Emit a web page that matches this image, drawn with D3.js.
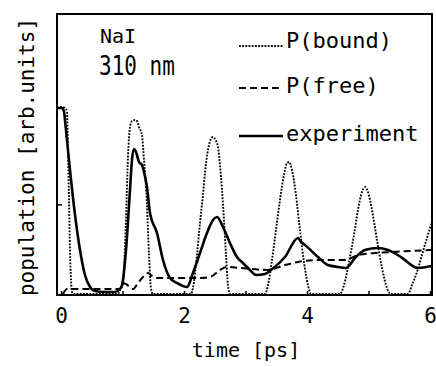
<!DOCTYPE html>
<html>
<head>
<meta charset="utf-8">
<script src="https://cdn.jsdelivr.net/npm/d3@7"></script>
<style>
  body { margin: 0; background: #fff; }
  text { font-family: "DejaVu Sans Mono", "Liberation Mono", monospace; fill: #000; }
</style>
</head>
<body>
<div id="chart"></div>
<script>
// data (time in ps, population in arb. units)
const expT = [-0.065,0.016,0.049,0.081,0.146,0.228,0.309,0.390,0.472,0.553,0.699,0.878,0.959,0.992,1.057,1.122,1.154,1.187,1.220,1.268,1.317,1.350,1.398,1.447,1.561,1.659,1.772,1.886,2.049,2.146,2.260,2.374,2.472,2.537,2.634,2.748,2.862,2.959,3.073,3.171,3.317,3.415,3.642,3.854,3.902,3.967,4.179,4.341,4.504,4.634,4.780,4.943,5.154,5.317,5.528,5.805,6.033];
const expV = [2.063,2.063,2.019,1.820,1.379,0.883,0.496,0.221,0.088,0.044,0.033,0.033,0.066,0.110,0.496,1.158,1.489,1.611,1.578,1.467,1.434,1.357,1.191,0.905,0.684,0.386,0.188,0.132,0.088,0.243,0.463,0.684,0.827,0.860,0.750,0.574,0.419,0.353,0.276,0.221,0.232,0.276,0.419,0.629,0.585,0.552,0.419,0.331,0.309,0.298,0.408,0.496,0.518,0.496,0.419,0.298,0.320];

const boundT = [-0.065,0.016,0.065,0.098,0.114,0.130,0.146,0.163,0.179,0.211,0.927,0.959,1.008,1.057,1.089,1.122,1.154,1.203,1.236,1.268,1.317,1.350,1.398,1.431,1.463,1.496,2.081,2.114,2.146,2.211,2.260,2.309,2.341,2.390,2.439,2.472,2.504,2.553,2.585,2.618,2.650,2.683,2.715,2.748,3.317,3.366,3.431,3.496,3.561,3.626,3.675,3.707,3.756,3.821,3.886,3.951,4.016,4.065,4.537,4.602,4.683,4.764,4.829,4.894,4.943,4.992,5.057,5.138,5.220,5.301,5.366,5.642,5.707,5.789,5.870,5.951,6.033];
const boundV = [2.063,2.074,2.063,2.019,1.600,1.048,0.496,0.165,0.033,0.011,0.011,0.055,0.132,0.827,1.522,1.853,1.919,1.930,1.919,1.853,1.765,1.489,0.993,0.441,0.077,0.011,0.011,0.011,0.077,0.441,0.794,1.103,1.346,1.600,1.721,1.743,1.721,1.633,1.434,1.158,0.827,0.441,0.110,0.011,0.011,0.110,0.386,0.717,1.048,1.324,1.456,1.467,1.379,1.103,0.717,0.364,0.110,0.011,0.011,0.110,0.364,0.662,0.938,1.136,1.191,1.136,0.938,0.607,0.298,0.077,0.011,0.011,0.110,0.254,0.441,0.629,0.805];

const freeT = [0.033,0.098,0.146,0.959,1.008,1.057,1.171,1.252,1.333,1.415,1.480,1.561,2.260,2.423,2.585,2.699,2.911,3.366,3.642,3.854,4.179,4.618,4.829,5.106,5.366,5.691,6.033];
const freeV = [0.011,0.066,0.066,0.066,0.132,0.121,0.066,0.132,0.199,0.243,0.210,0.188,0.188,0.199,0.276,0.309,0.298,0.276,0.331,0.364,0.386,0.386,0.441,0.463,0.474,0.485,0.496];

const xTicks = [0,1,2,3,4,5,6];
const xTickLabels = ["0","","2","","4","","6"];
const yTicks = [1];

const legendNames = ["P(bound)", "P(free)", "experiment"];

const svgWidth = 436;
const svgHeight = 367;
const margin = { top: 14, right: 4, bottom: 72, left: 57 };
const width = svgWidth - margin.left - margin.right;
const height = svgHeight - margin.top - margin.bottom;

const svg = d3.select("#chart")
    .append("svg")
    .attr("width", svgWidth)
    .attr("height", svgHeight);

svg.append("rect").attr("width", svgWidth).attr("height", svgHeight).attr("fill", "#fff");

const chartGroup = svg.append("g")
    .attr("transform", `translate(${margin.left}, ${margin.top})`);

const xLinearScale = d3.scaleLinear().domain([-0.065, 6.033]).range([0, width]);
const yLinearScale = d3.scaleLinear().domain([0, 3.1]).range([height, 0]);

// clip so curves stay inside the frame
chartGroup.append("clipPath").attr("id", "plotClip")
    .append("rect").attr("width", width).attr("height", height);

const line = d3.line()
    .x(d => xLinearScale(d[0]))
    .y(d => yLinearScale(d[1]))
    .curve(d3.curveMonotoneX);

const series = [
    { t: boundT, v: boundV, width: 1.9, dash: "1.8,1.4" },
    { t: freeT, v: freeV, width: 2, dash: "7,4" },
    { t: expT, v: expV, width: 2.6, dash: null }
];

const plot = chartGroup.append("g").attr("clip-path", "url(#plotClip)");
series.forEach(s => {
    plot.append("path")
        .datum(s.t.map((t, i) => [t, s.v[i]]))
        .attr("d", line)
        .attr("fill", "none")
        .attr("stroke", "#000")
        .attr("stroke-width", s.width)
        .attr("stroke-dasharray", s.dash);
});

// axes, ticks pointing inward
const bottomAxis = d3.axisBottom(xLinearScale)
    .tickValues(xTicks)
    .tickSizeInner(-4)
    .tickSizeOuter(0)
    .tickPadding(13)
    .tickFormat((d, i) => xTickLabels[i]);
const xAxis = chartGroup.append("g")
    .attr("transform", `translate(0, ${height})`)
    .call(bottomAxis);
xAxis.select(".domain").remove();
xAxis.selectAll("line").attr("stroke-width", 1.5);
xAxis.selectAll("text")
    .style("font-family", "'DejaVu Sans Mono', monospace")
    .style("font-size", "21px");

const leftAxis = d3.axisLeft(yLinearScale)
    .tickValues(yTicks)
    .tickSizeInner(-5)
    .tickSizeOuter(0)
    .tickFormat("");
const yAxis = chartGroup.append("g").call(leftAxis);
yAxis.select(".domain").remove();
yAxis.selectAll("line").attr("stroke-width", 1.5);

chartGroup.append("rect")
    .attr("width", width)
    .attr("height", height)
    .attr("fill", "none")
    .attr("stroke", "#000")
    .attr("stroke-width", 2);

// axis labels
svg.append("text")
    .attr("x", 246)
    .attr("y", 357)
    .attr("text-anchor", "middle")
    .style("font-size", "20px")
    .text("time [ps]");

svg.append("text")
    .attr("transform", "translate(34, 157) rotate(-90)")
    .attr("text-anchor", "middle")
    .style("font-size", "21px")
    .text("population [arb.units]");

// annotation
svg.append("text")
    .attr("x", 100)
    .attr("y", 43)
    .style("font-size", "20px")
    .text("NaI");
svg.append("text")
    .attr("transform", "translate(99, 75) scale(1, 1.3)")
    .style("font-size", "21px")
    .text("310 nm");

// legend
const legendY = [46, 88, 136];
const legendTextY = [48, 93, 141];
legendNames.forEach((name, i) => {
    svg.append("line")
        .attr("x1", 239).attr("x2", 283)
        .attr("y1", legendY[i]).attr("y2", legendY[i])
        .attr("stroke", "#000")
        .attr("stroke-width", series[i].width)
        .attr("stroke-dasharray", series[i].dash);
    svg.append("text")
        .attr("x", 286)
        .attr("y", legendTextY[i])
        .style("font-size", "22px")
        .text(name);
});
</script>
</body>
</html>
